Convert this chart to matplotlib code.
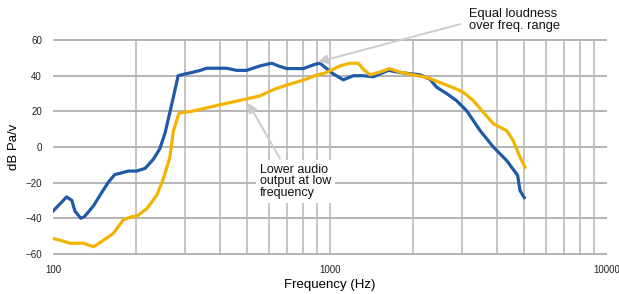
"""Frequency response: equal loudness vs. weak low end."""

import matplotlib
matplotlib.use("Agg")
import matplotlib.pyplot as plt
from matplotlib.ticker import FixedLocator, NullFormatter

plt.rcParams["font.family"] = ["Liberation Sans", "DejaVu Sans"]

# Values
freq_blue = [100, 112, 117, 120, 126, 130, 140, 150, 158, 167, 177, 187, 200, 215,
             230, 243, 254, 272, 283, 300, 321, 340, 359, 424, 460, 500, 559, 616,
             651, 698, 801, 883, 920, 955, 1028, 1117, 1214, 1320, 1434, 1623, 1790,
             2113, 2295, 2428, 2638, 2863, 3116, 3482, 3892, 4344, 4760, 4850, 5027]
db_blue = [-36, -28, -30, -36, -40, -39, -33, -25.5, -20, -15.5, -14.5, -13.5, -13.5,
           -12, -7, -1, 8, 28, 40, 41, 42, 43, 44.2, 44.2, 43, 43, 45.5, 47, 45.5, 44,
           44, 46.4, 47, 45, 41, 37.7, 40, 40, 39.4, 43, 41.8, 40.5, 38, 33.5, 30, 26,
           20.3, 9.2, -0.1, -7.6, -16, -24.4, -28.4]

freq_yellow = [100, 106, 115, 129, 140, 150, 165, 179, 193, 200, 218, 237, 250, 264,
               272, 285, 317, 401, 500, 559, 632, 716, 801, 883, 971, 1087, 1180, 1264,
               1320, 1395, 1512, 1643, 1790, 2000, 2236, 2496, 2863, 3034, 3292, 3580,
               3892, 4344, 4584, 4853, 5056]
db_yellow = [-51.3, -52.3, -54, -54, -56, -53, -48.5, -41, -39, -39, -34.6, -27, -18,
             -6, 9, 19, 20, 23.7, 27, 28.7, 32.5, 35.3, 37.5, 40, 41.8, 45.5, 47, 47,
             43.6, 40.5, 42, 44, 42, 40.5, 39, 36.2, 32.5, 30.6, 26, 19.4, 13, 9.2, 3.6,
             -5.7, -11.3]

y_ticks = [-60, -40, -20, 0, 20, 40, 60]
x_major = [100, 1000, 10000]
x_minor = [200, 300, 400, 500, 600, 700, 800, 900, 1000,
           2000, 3000, 4000, 5000, 6000, 7000, 8000, 9000]

BLUE = "#1f5aa8"
YELLOW = "#f2b400"
GRID = "#b4b4b4"
ARROW = "#cccccc"

fig = plt.figure(figsize=(6.19, 2.94), dpi=100)
ax = fig.add_axes([53 / 619, 39 / 294, 554 / 619, 216 / 294])

ax.plot(freq_blue, db_blue, color=BLUE, lw=2.3, solid_joinstyle="round", zorder=3)
ax.plot(freq_yellow, db_yellow, color=YELLOW, lw=2.3, solid_joinstyle="round", zorder=3)

ax.set_xscale("log")
ax.set_xlim(100, 10000)
ax.set_ylim(-60.6, 60.6)

ax.xaxis.set_major_locator(FixedLocator(x_major))
ax.xaxis.set_minor_locator(FixedLocator(x_minor))
ax.xaxis.set_minor_formatter(NullFormatter())
ax.set_xticklabels(["100", "1000", "10000"])
ax.set_yticks(y_ticks)

for s in ax.spines.values():
    s.set_visible(False)
ax.tick_params(which="both", length=0, labelsize=7, colors="#222222")
ax.tick_params(axis="x", pad=7)
ax.tick_params(axis="y", pad=8)

for y in y_ticks:
    ax.axhline(y, color=GRID, lw=1.4, zorder=1)
for x in x_minor:
    ax.axvline(x, color=GRID, lw=1.1, zorder=1)

ax.set_xlabel("Frequency (Hz)", fontsize=9.5, labelpad=3)
ax.set_ylabel("dB Pa/v", fontsize=9.5, labelpad=4)

# Annotations
ax.annotate("", xy=(905, 47.7), xytext=(2946, 68.9),
            arrowprops=dict(arrowstyle="-|>", color=ARROW, lw=1.4,
                            shrinkA=0, shrinkB=0, mutation_scale=14),
            annotation_clip=False, zorder=4)
ax.text(3176, 78, "Equal loudness\nover freq. range", fontsize=9.3,
        va="top", ha="left", linespacing=0.95, color="#111111")

ax.annotate("", xy=(506, 24.8), xytext=(660, -6.5),
            arrowprops=dict(arrowstyle="-|>", color=ARROW, lw=1.4,
                            shrinkA=0, shrinkB=0, mutation_scale=14),
            zorder=4)
ax.text(559, -9.5, "Lower audio\noutput at low\nfrequency", fontsize=9,
        va="top", ha="left", linespacing=0.95, color="#111111", zorder=5,
        bbox=dict(facecolor="white", edgecolor="none", pad=3))

fig.savefig("out.png", dpi=100)
